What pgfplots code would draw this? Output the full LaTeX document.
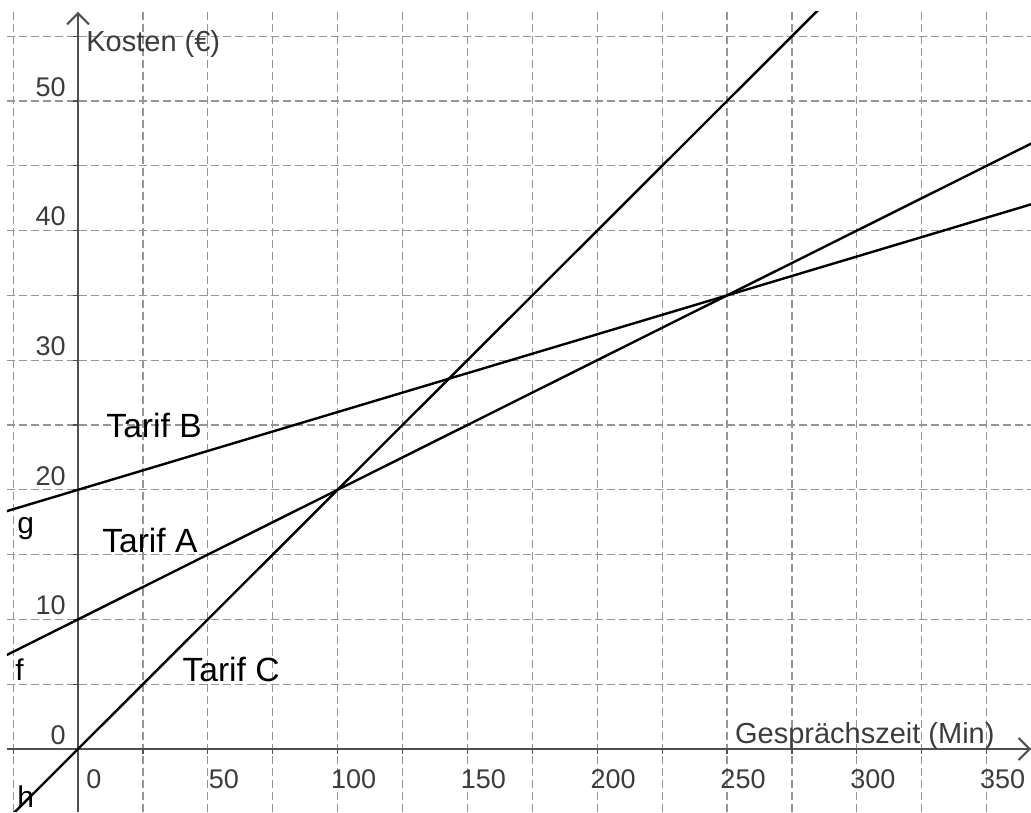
\documentclass[border=0pt]{standalone}
\usepackage{pgfplots}
\pgfplotsset{compat=1.18}
\usepackage{fontspec}
\setmainfont{Liberation Sans}
\usetikzlibrary{arrows.meta}

\definecolor{gridgray}{RGB}{150,150,150}
\definecolor{axisgray}{RGB}{80,80,80}
\definecolor{labelgray}{RGB}{60,60,60}

\newcommand{\ticksize}{\fontsize{13.5}{16}\selectfont}
\newcommand{\axsize}{\fontsize{14.5}{17}\selectfont}
\newcommand{\tarifsize}{\fontsize{16.8}{20}\selectfont}
\newcommand{\namesize}{\fontsize{15}{18}\selectfont}

\begin{document}
\begin{tikzpicture}
\begin{axis}[
    scale only axis,
    width=512pt, height=400pt,
    xmin=-27.35, xmax=367.1,
    ymin=-4.86, ymax=56.87,
    axis lines=middle,
    axis line style={axisgray, line width=1pt, -{Straight Barb[length=5.5pt,width=11pt]}},
    xtick={0,50,...,350},
    minor xtick={-25,25,75,...,375},
    ytick={0,10,...,50},
    minor ytick={5,15,...,55},
    grid=both,
    grid style={gridgray, dash pattern=on 4pt off 2pt, line width=0.6pt},
    tick align=outside,
    major tick length=2.5pt,
    minor tick length=2.5pt,
    tick style={axisgray, line width=0.6pt},
    hide obscured x ticks=false,
    hide obscured y ticks=false,
    /pgf/number format/assume math mode=true,
    xticklabel style={anchor=north, inner sep=0pt, xshift=8pt, yshift=-7.5pt,
        font=\ticksize, text=labelgray},
    yticklabel style={anchor=south east, inner sep=0pt, xshift=-3.5pt, yshift=2pt,
        font=\ticksize, text=labelgray},
    xlabel={Gesprächszeit (Min)},
    xlabel style={at={(axis description cs:0.9648,0.08625)}, anchor=base east,
        inner sep=0pt, font=\axsize, text=labelgray},
    ylabel={Kosten (€)},
    ylabel style={at={(axis description cs:0.0771,0.95)}, anchor=base west,
        inner sep=0pt, rotate=0, font=\axsize, text=labelgray},
]
% Tarif A: f(x) = 10 + 0.1x
\addplot[black, line width=1.2pt] coordinates {(-30,7) (370,47)};
% Tarif B: g(x) = 20 + 0.06x
\addplot[black, line width=1.2pt] coordinates {(-30,18.2) (370,42.2)};
% Tarif C: h(x) = 0.2x
\addplot[black, line width=1.2pt] coordinates {(-30,-6) (370,74)};

\node[anchor=base west, inner sep=0pt, font=\tarifsize] at (axis cs:10.8,24.0) {Tarif B};
\node[anchor=base west, inner sep=0pt, font=\tarifsize] at (axis cs:9.2,15.2) {Tarif A};
\node[anchor=base west, inner sep=0pt, font=\tarifsize] at (axis cs:40.1,5.2) {Tarif C};
\node[anchor=base west, inner sep=0pt, font=\namesize] at (axis cs:-23.5,16.6) {g};
\node[anchor=base west, inner sep=0pt, font=\namesize] at (axis cs:-24.3,5.3) {f};
\node[anchor=base west, inner sep=0pt, font=\namesize] at (axis cs:-23.5,-4.55) {h};
\end{axis}
\pgfresetboundingbox
\useasboundingbox ([xshift=-3.5pt]current axis.south west) rectangle ([yshift=6pt]current axis.north east);
\end{tikzpicture}
\end{document}
